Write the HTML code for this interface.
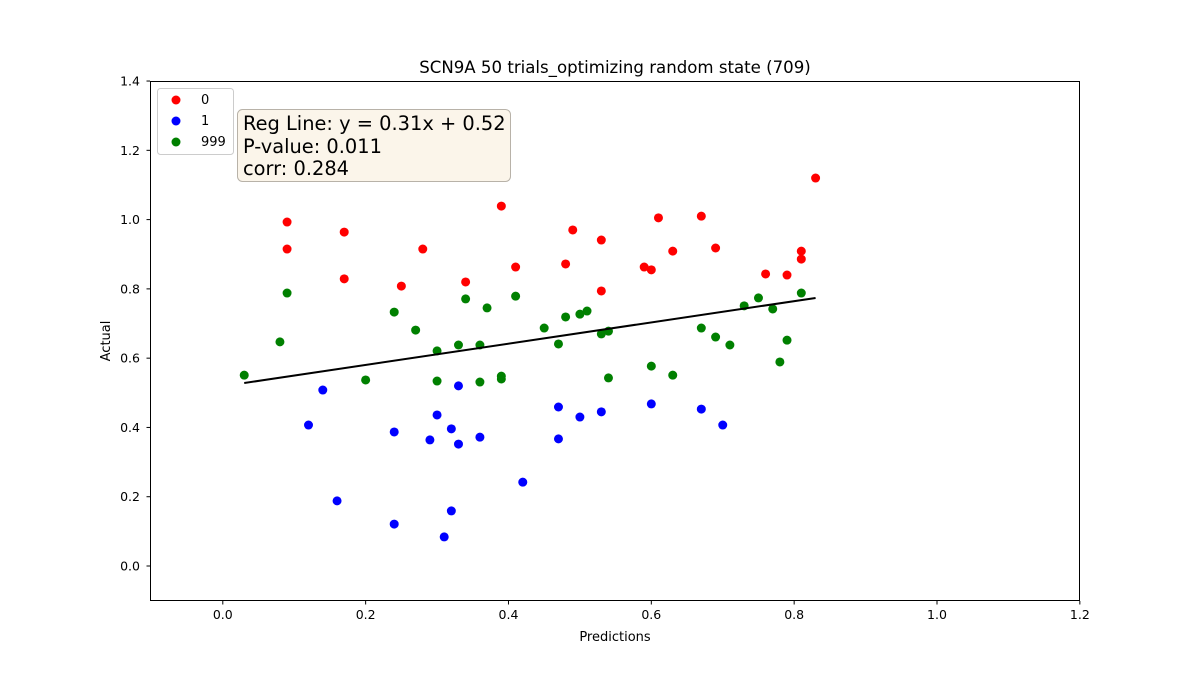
<!DOCTYPE html>
<html><head><meta charset="utf-8"><style>
body{margin:0;background:#fff;}
svg text{font-family:"DejaVu Sans","Liberation Sans",sans-serif;fill:#000;}
</style></head><body>
<svg id="chart" width="1200" height="675" xmlns="http://www.w3.org/2000/svg">
<rect width="1200" height="675" fill="#fff"/>
<text x="615" y="73" font-size="16.6" text-anchor="middle">SCN9A 50 trials_optimizing random state (709)</text>
<g id="ticks"></g>
<g id="marks"></g>
<rect x="150.5" y="81.5" width="929" height="519" fill="none" stroke="#000" stroke-width="1"/>
<text x="615" y="641" font-size="13" text-anchor="middle">Predictions</text>
<text transform="translate(110,341) rotate(-90)" font-size="13" text-anchor="middle">Actual</text>
<g>
<rect x="157.5" y="88.5" width="76" height="66" rx="3" fill="#fff" stroke="#ccc"/>
<circle cx="176" cy="100" r="4.5" fill="#ff0000"/>
<text x="201" y="104" font-size="13">0</text>
<circle cx="176" cy="121" r="4.5" fill="#0000ff"/>
<text x="201" y="125" font-size="13">1</text>
<circle cx="176" cy="142" r="4.5" fill="#008000"/>
<text x="201" y="146" font-size="13">999</text>
</g>
<g>
<rect x="237.5" y="109.5" width="273" height="72" rx="5" fill="#fbf5ea" stroke="#b8b2a8"/>
<text x="243" y="130" font-size="19.4">Reg Line: y = 0.31x + 0.52</text>
<text x="243" y="153" font-size="19.4">P-value: 0.011</text>
<text x="243" y="175" font-size="19.4">corr: 0.284</text>
</g>
</svg>
<script>
const xTicks=[0.0,0.2,0.4,0.6,0.8,1.0,1.2];
const yTicks=[0.0,0.2,0.4,0.6,0.8,1.0,1.2,1.4];
const redPts=[[0.09,0.993],[0.09,0.915],[0.17,0.964],[0.17,0.829],[0.25,0.808],[0.28,0.915],[0.34,0.820],[0.39,1.039],[0.41,0.863],[0.48,0.872],[0.49,0.970],[0.53,0.941],[0.53,0.794],[0.59,0.863],[0.60,0.855],[0.61,1.005],[0.63,0.909],[0.67,1.010],[0.69,0.918],[0.76,0.843],[0.79,0.840],[0.81,0.909],[0.81,0.886],[0.83,1.120]];
const bluePts=[[0.14,0.508],[0.12,0.407],[0.16,0.188],[0.24,0.387],[0.24,0.121],[0.29,0.364],[0.30,0.436],[0.32,0.396],[0.33,0.520],[0.33,0.352],[0.36,0.372],[0.32,0.159],[0.31,0.084],[0.42,0.242],[0.47,0.459],[0.47,0.367],[0.50,0.430],[0.53,0.445],[0.60,0.468],[0.67,0.453],[0.70,0.407]];
const greenPts=[[0.03,0.551],[0.08,0.647],[0.09,0.788],[0.20,0.537],[0.24,0.733],[0.27,0.681],[0.30,0.621],[0.30,0.534],[0.33,0.638],[0.34,0.771],[0.36,0.638],[0.36,0.531],[0.37,0.745],[0.39,0.548],[0.39,0.540],[0.41,0.779],[0.45,0.687],[0.47,0.641],[0.48,0.719],[0.50,0.727],[0.51,0.736],[0.53,0.670],[0.54,0.678],[0.54,0.543],[0.60,0.577],[0.63,0.551],[0.67,0.687],[0.69,0.661],[0.71,0.638],[0.73,0.751],[0.75,0.774],[0.77,0.742],[0.78,0.589],[0.79,0.652],[0.81,0.788]];
const regSlope=0.307, regIntercept=0.519;
const regRange=[0.03,0.83];

const NS="http://www.w3.org/2000/svg";
const sx=v=>222.8+(v)*714.2;
const sy=v=>566-(v)*346.4;
function mk(tag,attrs,parent){const e=document.createElementNS(NS,tag);for(const k in attrs)e.setAttribute(k,attrs[k]);parent.appendChild(e);return e;}
const tg=document.getElementById('ticks'), mg=document.getElementById('marks');
xTicks.forEach(t=>{
  const l=mk('line',{x1:sx(t),x2:sx(t),y1:601,y2:604.5,stroke:'#000'},tg);
  
  
  const tx=mk('text',{x:sx(t),y:619,'font-size':12.5,'text-anchor':'middle'},tg);tx.textContent=t.toFixed(1);
  
  
});
yTicks.forEach(t=>{
  const l=mk('line',{x1:146.5,x2:150,y1:sy(t),y2:sy(t),stroke:'#000'},tg);
  
  
  const tx=mk('text',{x:140,y:sy(t)+4.5,'font-size':12.5,'text-anchor':'end'},tg);tx.textContent=t.toFixed(1);
  
  
});
function dots(arr,col,name){arr.forEach(p=>{
  const c=mk('circle',{cx:sx(p[0]),cy:sy(p[1]),r:4.5,fill:col},mg);
  
  
});}
dots(redPts,'#ff0000','point-class-0');
dots(bluePts,'#0000ff','point-class-1');
dots(greenPts,'#008000','point-class-999');
const rl=mk('line',{x1:sx(regRange[0]),y1:sy(regSlope*regRange[0]+regIntercept),x2:sx(regRange[1]),y2:sy(regSlope*regRange[1]+regIntercept),stroke:'#000','stroke-width':2},mg);


</script>
</body></html>
